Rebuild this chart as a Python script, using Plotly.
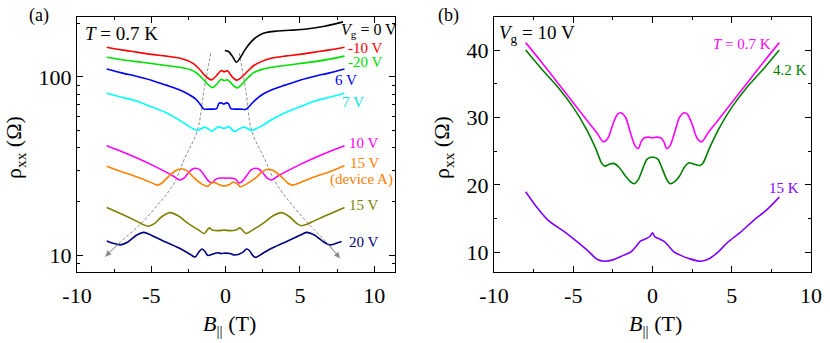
import math
import plotly.graph_objects as go

W, H = 830, 343
FONT = "Liberation Serif"

# ---------------- Panel (a): T = 0.7 K, various Vg ----------------
B_0 = [-0.05, 0.2, 0.45, 0.72, 0.95, 1.3, 1.64, 2.09, 2.54, 3.4, 4.33, 5.45, 6.57, 7.9]
R_0 = [141, 139, 131, 121, 127, 142, 155, 168, 176, 181, 183, 186, 192, 204]

B_m10 = [-8, -7, -6, -5, -4, -3, -2.4, -2, -1.65, -1.35, -0.95, -0.65, -0.3, -0.1, 0.12,
         0.3, 0.5, 0.75, 1.15, 1.5, 1.9, 2.4, 3, 4, 5, 6, 7, 8]
R_m10 = [147, 142, 138, 134, 131, 127, 122, 116, 108, 101, 96.3, 101, 108.5, 107, 108.5,
         104, 99, 96.0, 101, 108, 116, 122, 127, 131, 134, 138, 142, 147]

B_m20 = [-8, -7, -6, -5, -4, -3, -2.4, -2, -1.6, -1.25, -0.88, -0.6, -0.3, -0.1, 0.12,
         0.35, 0.55, 0.8, 1.15, 1.5, 1.9, 2.4, 3, 4, 5, 6, 7, 8]
R_m20 = [129, 125, 122, 119, 116, 113, 110, 106, 99, 92, 87.2, 91, 97, 95.5, 96.5,
         93, 89, 86.8, 92, 99, 106, 110, 113, 116, 119, 122, 126, 131]

B_6 = [-8, -7, -6, -5, -4, -3, -2.5, -2, -1.7, -1.46, -1.2, -0.9, -0.6, -0.45, -0.3, -0.12, 0.05, 0.18,
       0.35, 0.6, 1.0, 1.37, 1.6, 1.9, 2.5, 3, 4, 5, 6, 7, 8]
R_6 = [111, 105.5, 101, 96, 90, 84, 80, 75, 70, 66, 66, 66, 66.5, 71, 71.5, 70.5, 71.5, 71,
       66.5, 66, 66, 65.8, 68.5, 73, 80, 84, 90, 96, 101, 105.5, 111]

B_7 = [-8, -7, -6, -5, -4, -3, -2.5, -2.15, -1.85, -1.6, -1.4, -1.15, -0.95, -0.7, -0.47, -0.3, -0.12,
       0.05, 0.2, 0.4, 0.62, 0.9, 1.2, 1.5, 1.75, 2.0, 2.5, 3, 4, 5, 6, 7, 8]
R_7 = [81, 77, 73.3, 68, 63, 56.5, 53, 51, 50.2, 51.5, 52.3, 51, 49.6, 51, 52.6, 52, 51.5,
       52, 52.6, 51, 49.4, 51, 52.3, 51.2, 50, 51, 53.5, 57, 63, 68, 73.3, 77, 81]

B_10 = [-8, -7, -6, -5, -4, -3.5, -3.1, -2.8, -2.5, -2.2, -2.0, -1.7, -1.4, -1.1, -0.9, -0.7, -0.5, -0.25, 0,
        0.25, 0.5, 0.7, 0.9, 1.1, 1.4, 1.7, 2.0, 2.2, 2.5, 2.8, 3.1, 3.5, 4, 5, 6, 7, 8]
R_10 = [41.1, 38.2, 35.2, 32.2, 29.2, 27.7, 26.4, 27.0, 29.0, 30.5, 30.7, 30.0, 27.8, 25.8, 25.4, 26.5, 27.0, 27.1, 27.0,
        27.1, 27.0, 26.5, 25.4, 25.8, 27.8, 30.0, 30.7, 30.5, 29.0, 27.0, 26.4, 27.7, 29.2, 32.2, 35.2, 38.2, 41.1]

B_15A = [-8, -7, -6, -5, -4.6, -4.3, -3.8, -3.3, -3.0, -2.6, -2.1, -1.6, -1.2, -1.0, -0.85, -0.5, -0.1,
         0.3, 0.5, 0.75, 1.0, 1.4, 2.0, 2.5, 2.9, 3.2, 3.7, 4.2, 4.5, 5, 6, 7, 8]
R_15A = [31.5, 29.4, 27.5, 25.5, 24.7, 25.3, 27.8, 29.9, 30.5, 29.7, 27.0, 25.0, 24.3, 25.2, 25.7, 25.0, 24.4,
         25.0, 25.6, 25.2, 24.2, 25.0, 27.0, 29.5, 30.3, 29.8, 27.8, 25.3, 24.7, 25.5, 27.5, 29.4, 31.7]

B_15 = [-8, -7, -6, -5.6, -5.2, -4.8, -4.3, -3.75, -3.2, -2.5, -1.8, -1.44, -1.1, -0.9, -0.5, -0.1,
        0.3, 0.7, 0.96, 1.37, 1.8, 2.5, 3.2, 3.77, 4.3, 4.8, 5.1, 5.5, 6, 7, 8]
R_15 = [18.5, 17.0, 15.5, 14.9, 14.5, 15.0, 16.4, 17.3, 16.6, 15.0, 13.8, 13.2, 14.2, 13.8, 13.7, 13.8,
        13.7, 13.8, 14.2, 13.2, 13.8, 15.0, 16.6, 17.3, 16.4, 15.0, 14.6, 14.9, 15.6, 17.0, 18.5]

B_20 = [-8, -7.5, -7.1, -6.6, -6.0, -5.5, -5.0, -4, -3, -2.4, -2.05, -1.8, -1.6, -1.4, -1.2, -0.9, -0.55, -0.3, 0,
        0.3, 0.6, 0.9, 1.2, 1.4, 1.6, 1.8, 2.0, 2.4, 3, 4, 5, 5.45, 6.0, 6.5, 7.0, 7.4, 7.8]
R_20 = [12.0, 11.6, 11.4, 11.8, 12.9, 13.4, 12.9, 11.8, 10.8, 10.1, 9.75, 10.4, 10.8, 10.5, 9.95, 10.1, 10.3, 10.2, 10.25,
        10.2, 10.0, 10.1, 10.4, 10.8, 10.6, 10.0, 9.7, 10.1, 10.8, 11.8, 12.9, 13.4, 12.9, 12.0, 11.4, 11.6, 11.9]

# guide lines (dashed grey, with arrow heads)
B_guideL = [-1.0, -1.45, -1.9, -2.75, -3.5, -4.6, -5.8, -7.0, -8.1]
R_guideL = [136, 85, 50, 35, 25, 19, 14.7, 12, 9.8]
B_guideR = [0.92, 1.35, 1.75, 2.6, 3.43, 4.5, 5.67, 6.7, 7.7]
R_guideR = [136, 85, 50, 35, 25, 19, 14.7, 12, 9.6]

# ---------------- Panel (b): Vg = 10 V, various T ----------------
B_b07 = B_10
R_b07 = R_10

B_b42 = [-8, -7, -6, -5, -4.2, -3.6, -3.2, -3.0, -2.7, -2.45, -2.1, -1.7, -1.4, -1.15, -0.9, -0.6, -0.35, -0.1, 0,
         0.1, 0.35, 0.6, 0.9, 1.1, 1.4, 1.7, 2.0, 2.3, 2.6, 3.0, 3.2, 3.6, 4.2, 5, 6, 7, 8]
R_b42 = [40.0, 37.2, 34.6, 31.5, 28.4, 25.5, 23.2, 22.8, 23.1, 23.2, 22.6, 21.3, 20.5, 20.2, 20.8, 22.5, 23.8, 24.1, 24.1,
         24.1, 23.8, 22.5, 20.8, 20.2, 20.5, 21.3, 22.6, 23.3, 23.1, 22.9, 23.3, 25.5, 28.4, 31.5, 34.6, 37.2, 40.0]

B_b15 = [-8, -7.3, -6.6, -5.4, -4.1, -3.5, -3.05, -2.5, -2.0, -1.6, -1.3, -1.0, -0.75, -0.45, -0.15, 0,
         0.15, 0.45, 0.75, 1.0, 1.35, 1.75, 2.3, 3.05, 3.6, 4.2, 4.7, 5.5, 6.4, 7.2, 8.0]
R_b15 = [19.0, 16.7, 14.8, 12.8, 10.3, 9.0, 8.7, 8.9, 9.4, 9.8, 10.2, 11.0, 11.7, 12.0, 12.4, 12.9,
         12.3, 12.0, 11.6, 11.0, 10.1, 9.6, 9.1, 8.7, 9.1, 10.2, 11.4, 12.9, 14.8, 16.3, 18.2]

TICKS_X = [-10, -5, 0, 5, 10]
TICKTEXT_X = ["-10", "-5", "0", "5", "10"]
MINOR_X = [-7.5, -2.5, 2.5, 7.5]
TICKS_YA = [10, 100]
MINOR_YA = [9, 20, 30, 40, 50, 60, 70, 80, 90, 200]
TICKS_YB = [10, 20, 30, 40]
MINOR_YB = [15, 25, 35]

fig = go.Figure()

def curve(x, y, color, xa="x", ya="y", width=1.6):
    fig.add_trace(go.Scatter(x=x, y=y, mode="lines", xaxis=xa, yaxis=ya,
                             line=dict(color=color, width=width, shape="spline", smoothing=0.8),
                             showlegend=False, hoverinfo="skip"))

for bx, ry in [(B_guideL, R_guideL), (B_guideR, R_guideR)]:
    fig.add_trace(go.Scatter(x=bx, y=ry, mode="lines", xaxis="x", yaxis="y",
                             line=dict(color="#8a8a8a", width=1, dash="3px,2px", shape="spline"),
                             showlegend=False, hoverinfo="skip"))

curve(B_0, R_0, "#000000")
curve(B_m10, R_m10, "#ff0000")
curve(B_m20, R_m20, "#00e000")
curve(B_6, R_6, "#0000ff")
curve(B_7, R_7, "#00ffff")
curve(B_10, R_10, "#ff00ff")
curve(B_15A, R_15A, "#ff8000")
curve(B_15, R_15, "#808000")
curve(B_20, R_20, "#000080")

curve(B_b07, R_b07, "#ff00ff", "x2", "y2")
curve(B_b42, R_b42, "#008000", "x2", "y2")
curve(B_b15, R_b15, "#8000ff", "x2", "y2")

def P(px, py):
    return px / W, 1 - py / H

annotations = []

def label(text, px, py, color="black", size=15, xanchor="left", angle=0):
    x, y = P(px, py)
    annotations.append(dict(text=text, x=x, y=y, xref="paper", yref="paper",
                            xanchor=xanchor, yanchor="middle", showarrow=False,
                            textangle=angle, font=dict(family=FONT, size=size, color=color)))

for bx, ry in [(B_guideL, R_guideL), (B_guideR, R_guideR)]:
    annotations.append(dict(x=bx[-1], y=math.log10(ry[-1]), ax=bx[-2], ay=math.log10(ry[-2]),
                            xref="x", yref="y", axref="x", ayref="y", text="",
                            showarrow=True, arrowhead=2, arrowsize=1.2, arrowwidth=1,
                            arrowcolor="#8a8a8a", standoff=0, startstandoff=0))

label("(a)", 27, 15, size=18)
label("(b)", 436, 15, size=18)
label("<i>T</i> = 0.7 K", 83, 33, size=19)
label("<i>V</i><sub>g</sub> = 0 V", 339, 31, size=16)
label("-10 V", 346, 47.5, "#ff0000")
label("-20 V", 346, 62.5, "#00e000")
label("6 V", 333, 80, "#0000ff")
label("7 V", 340, 101.5, "#00e5ee")
label("10 V", 347, 143, "#ff00ff")
label("15 V", 348, 163, "#ff8000")
label("(device A)", 328, 179, "#ff8000")
label("15 V", 347, 205, "#808000")
label("20 V", 347, 242, "#000080")

label("<i>V</i><sub>g</sub> = 10 V", 497, 34, size=19)
label("<i>T</i> = 0.7 K", 711, 44, "#ff00ff", size=15)
label("4.2 K", 771, 70, "#008000", size=15)
label("15 K", 767, 188, "#8000ff", size=15)

label("ρ<sub>xx</sub> (Ω)", 15, 148, size=22, xanchor="center", angle=-90)
label("ρ<sub>xx</sub> (Ω)", 443, 148, size=22, xanchor="center", angle=-90)
label("<i>B</i><sub>||</sub> (T)", 229, 325, size=22, xanchor="center")
label("<i>B</i><sub>||</sub> (T)", 655, 325, size=22, xanchor="center")

axis_common = dict(showline=True, linecolor="black", linewidth=1, mirror="ticks",
                   ticks="inside", ticklen=6, tickwidth=1, tickcolor="black",
                   showgrid=False, zeroline=False, automargin=False,
                   tickfont=dict(family=FONT, size=22, color="black"))

yd = [1 - 272 / H, 1 - 17 / H]
fig.update_layout(
    width=W, height=H, margin=dict(l=0, r=0, t=0, b=0, pad=0, autoexpand=False),
    paper_bgcolor="white", plot_bgcolor="white", showlegend=False,
    xaxis=dict(domain=[77 / W, 395 / W], range=[-10, 11.4], tickmode="array", tickvals=TICKS_X,
               ticktext=TICKTEXT_X, anchor="y", ticklabelstandoff=4,
               minor=dict(tickmode="array", tickvals=MINOR_X, ticks="inside", ticklen=3, tickcolor="black"),
               **axis_common),
    yaxis=dict(domain=yd, type="log", range=[0.9045, 2.337], tickmode="array", tickvals=TICKS_YA,
               ticktext=[str(v) for v in TICKS_YA], anchor="x",
               minor=dict(tickmode="array", tickvals=MINOR_YA, ticks="inside", ticklen=3, tickcolor="black"),
               **axis_common),
    xaxis2=dict(domain=[494 / W, 811 / W], range=[-10, 10], tickmode="array", tickvals=TICKS_X,
                ticktext=TICKTEXT_X, anchor="y2", ticklabelstandoff=4,
                minor=dict(tickmode="array", tickvals=MINOR_X, ticks="inside", ticklen=3, tickcolor="black"),
                **axis_common),
    yaxis2=dict(domain=yd, range=[7.1, 44.9], tickmode="array", tickvals=TICKS_YB, anchor="x2",
                minor=dict(tickmode="array", tickvals=MINOR_YB, ticks="inside", ticklen=3, tickcolor="black"),
                **axis_common),
    annotations=annotations,
)

fig.write_html("out.html", config={"displayModeBar": False, "staticPlot": True},
               post_script="document.body.style.margin='0';document.body.style.padding='0';"
                           "document.body.style.overflow='hidden';")
